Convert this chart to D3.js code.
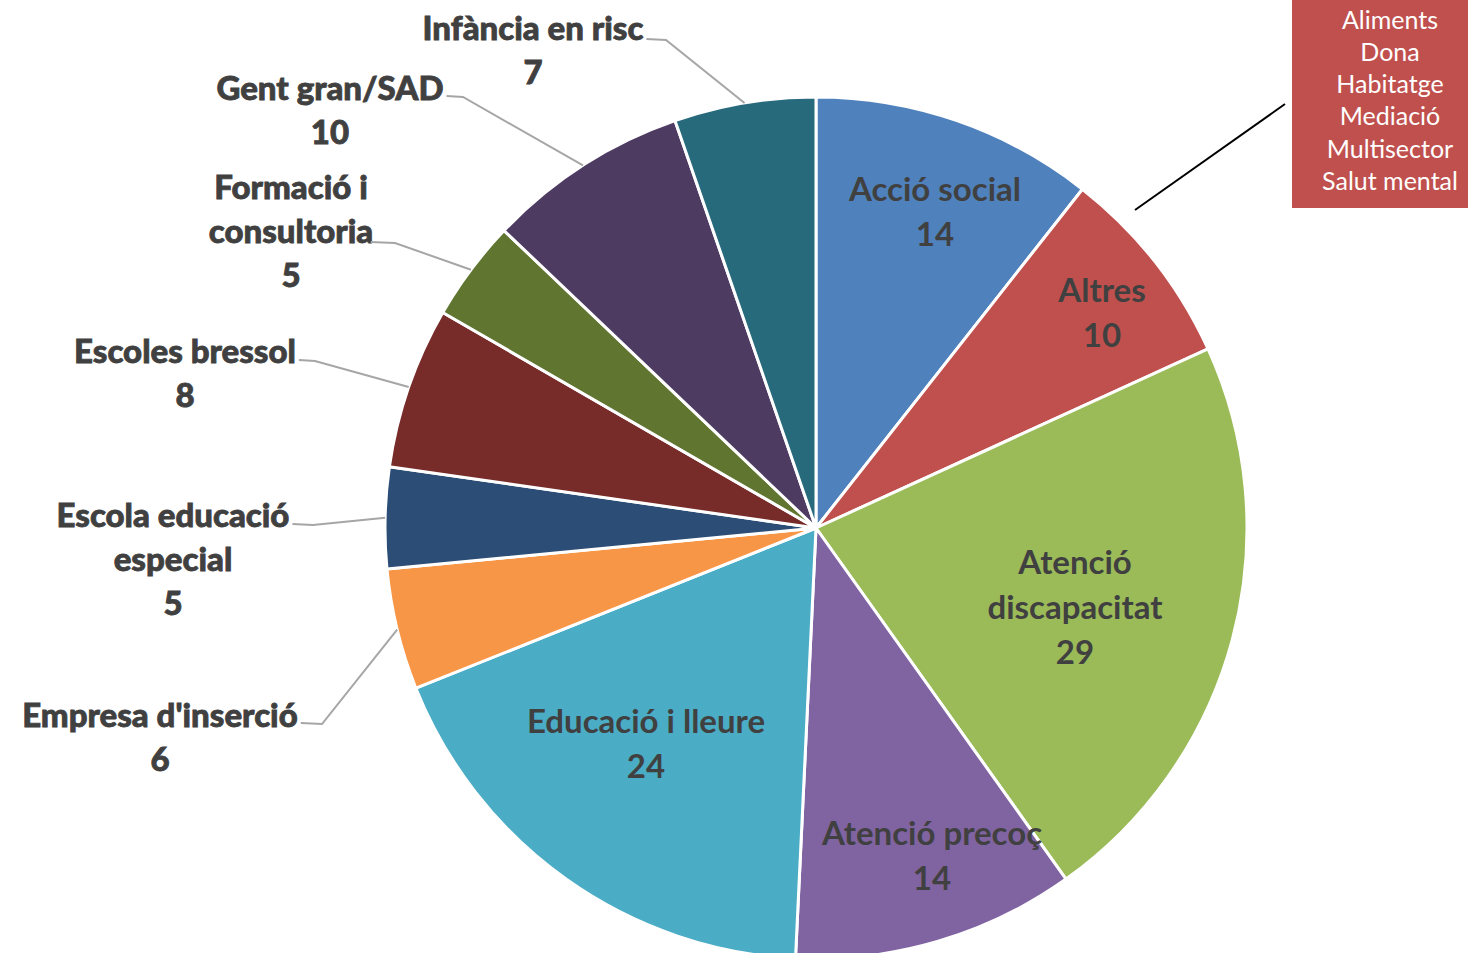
<!DOCTYPE html>
<html>
<head>
<meta charset="utf-8">
<script src="https://cdn.jsdelivr.net/npm/d3@7"></script>
<style>
  html, body { margin: 0; padding: 0; background: #fff; }
  svg { display: block; }
</style>
</head>
<body>
<div id="chart"></div>
<script>
"use strict";

// data
const categories = ["Acció social", "Altres", "Atenció discapacitat", "Atenció precoç",
  "Educació i lleure", "Empresa d'inserció", "Escola educació especial", "Escoles bressol",
  "Formació i consultoria", "Gent gran/SAD", "Infància en risc"];
const values = [14, 10, 29, 14, 24, 6, 5, 8, 5, 10, 7];
const labelLines = [["Acció social"], ["Altres"], ["Atenció", "discapacitat"], ["Atenció precoç"],
  ["Educació i lleure"], ["Empresa d'inserció"], ["Escola educació", "especial"], ["Escoles bressol"],
  ["Formació i", "consultoria"], ["Gent gran/SAD"], ["Infància en risc"]];
const altresDetail = ["Aliments", "Dona", "Habitatge", "Mediació", "Multisector", "Salut mental"];

const colors = ["#4F81BD", "#C0504D", "#9BBB59", "#8064A2", "#4BACC6", "#F79646",
  "#2C4D75", "#772C2A", "#5F7530", "#4D3B62", "#276A7C"];

// layout
const width = 1468, height = 953;
const cx = 816, cy = 528, radius = 431;

// label placement: inside labels (center), outside labels (text center x, first line y, elbow)
const inside = {
  0: [935, 189], 1: [1102, 290], 2: [1075, 562], 3: [932, 833], 4: [646, 721]
};
const outside = {
  5: {x: 160, y: 715, ex: 322, ey: 724},
  6: {x: 173, y: 515, ex: 313, ey: 525},
  7: {x: 185, y: 351, ex: 315, ey: 361},
  8: {x: 291, y: 187, ex: 395, ey: 243},
  9: {x: 330, y: 88, ex: 463, ey: 97},
  10: {x: 533, y: 28, ex: 666, ey: 40}
};

const svg = d3.select("#chart").append("svg")
  .attr("width", width)
  .attr("height", height);

const pie = d3.pie().sort(null).value(d => d)(values);
const arc = d3.arc().innerRadius(0).outerRadius(radius);

const g = svg.append("g").attr("transform", `translate(${cx},${cy})`);

g.selectAll("path")
  .data(pie)
  .join("path")
    .attr("d", arc)
    .attr("fill", (d, i) => colors[i])
    .attr("stroke", "#fff")
    .attr("stroke-width", 3)
    .attr("stroke-linejoin", "round");

const font = "Lato, 'Open Sans', sans-serif";

// inside labels
Object.keys(inside).forEach(k => {
  const i = +k;
  const [x, y] = inside[i];
  const lines = labelLines[i].concat([String(values[i])]);
  lines.forEach((t, j) => {
    svg.append("text")
      .attr("x", x)
      .attr("y", y + j * 45)
      .attr("dy", "0.35em")
      .attr("text-anchor", "middle")
      .attr("font-family", font)
      .attr("font-weight", "bold")
      .attr("font-size", 33)
      .attr("fill", "#404040")
      .text(t);
  });
});

// outside labels with leader lines
Object.keys(outside).forEach(k => {
  const i = +k;
  const o = outside[i];
  const lines = labelLines[i].concat([String(values[i])]);
  let firstRight = 0;
  lines.forEach((t, j) => {
    const txt = svg.append("text")
      .attr("x", o.x)
      .attr("y", o.y + j * 44)
      .attr("dy", "0.35em")
      .attr("text-anchor", "middle")
      .attr("font-family", font)
      .attr("font-weight", 900)
      .attr("font-size", 33)
      .attr("fill", "#404040")
      .attr("stroke", "#404040")
      .attr("stroke-width", 0.8)
      .text(t);
    if (j === 0) firstRight = o.x + txt.node().getComputedTextLength() / 2;
  });
  const a = (pie[i].startAngle + pie[i].endAngle) / 2;
  const px = cx + radius * Math.sin(a), py = cy - radius * Math.cos(a);
  svg.append("polyline")
    .attr("points", [[firstRight + 3, o.ey - 1], [o.ex, o.ey], [px, py]].map(p => p.join(",")).join(" "))
    .attr("fill", "none")
    .attr("stroke", "#A6A6A6")
    .attr("stroke-width", 2);
});

// "Altres" callout box
svg.append("line")
  .attr("x1", 1285).attr("y1", 104)
  .attr("x2", 1135).attr("y2", 210)
  .attr("stroke", "#000")
  .attr("stroke-width", 2);

svg.append("rect")
  .attr("x", 1292).attr("y", 0)
  .attr("width", width - 1292).attr("height", 208)
  .attr("fill", colors[1]);

altresDetail.forEach((t, j) => {
  svg.append("text")
    .attr("x", 1390)
    .attr("y", 20 + j * 32.2)
    .attr("dy", "0.35em")
    .attr("text-anchor", "middle")
    .attr("font-family", font)
    .attr("font-size", 25)
    .attr("fill", "#fff")
    .text(t);
});
</script>
</body>
</html>
